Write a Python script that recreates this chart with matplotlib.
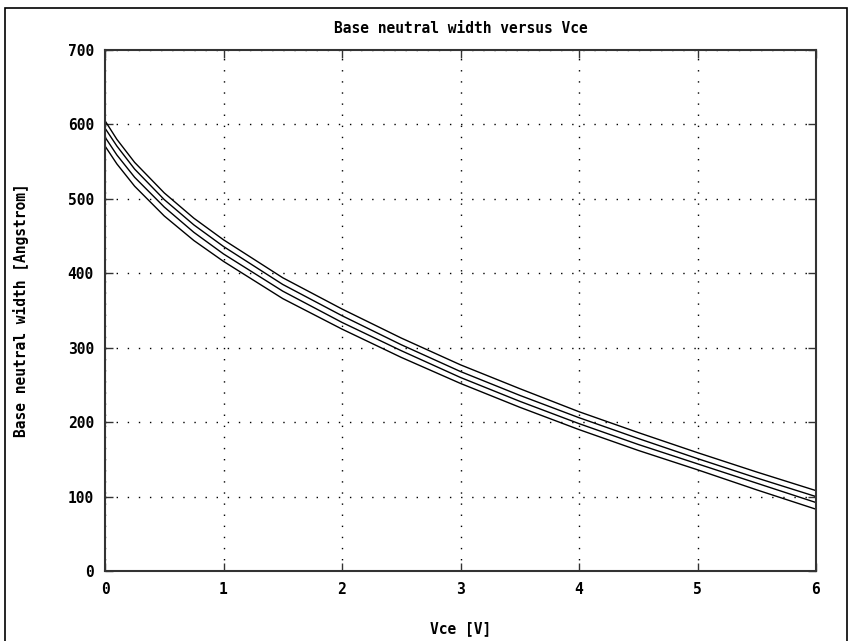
import matplotlib
matplotlib.use("Agg")
import matplotlib.pyplot as plt
from matplotlib.patches import Rectangle

vce = [0, 0.1, 0.25, 0.5, 0.75, 1, 1.5, 2, 2.5, 3, 3.5, 4, 4.5, 5, 5.5, 6]
w1 = [605, 580, 549, 508, 474, 445, 394, 352, 313, 277, 245, 214, 186, 159, 133, 108]
w2 = [595, 571, 540, 499, 465, 436, 385, 343, 304, 268, 236, 206, 178, 151, 125, 100]
w3 = [583, 559, 529, 489, 455, 426, 376, 334, 296, 260, 228, 198, 170, 144, 118, 92]
w4 = [571, 547, 517, 477, 444, 416, 366, 325, 287, 252, 220, 190, 162, 136, 109, 83]

xticks = [0, 1, 2, 3, 4, 5, 6]
yticks = [0, 100, 200, 300, 400, 500, 600, 700]

font = "DejaVu Sans Mono"
plt.rcParams['font.family'] = [font]

fig = plt.figure(figsize=(8.49, 6.41), dpi=100)
ax = fig.add_axes([105/849, 1-571/641, (816-105)/849, (571-50)/641])

for w in (w1, w2, w3, w4):
    ax.plot(vce, w, color="black", lw=1.0)

ax.set_xlim(0, 6)
ax.set_ylim(0, 700)
ax.set_xticks(xticks)
ax.set_yticks(yticks)
ax.set_xticklabels([str(t) for t in xticks], fontsize=10.5, fontweight="bold")
ax.set_yticklabels([str(t) for t in yticks], fontsize=10.5, fontweight="bold")
ax.tick_params(direction="in", length=6, width=1, top=True, right=True, pad=8, color="#333333")
ax.grid(True, linestyle=(0, (1, 7)), color="black", lw=1.0)
for s in ax.spines.values():
    s.set_linewidth(1.5)
    s.set_color("#333333")

ax.set_title("Base neutral width versus Vce", fontsize=10.5, fontweight="bold", pad=12)
ax.set_xlabel("Vce [V]", fontsize=10.5, fontweight="bold", labelpad=17)
ax.set_ylabel("Base neutral width [Angstrom]", fontsize=10.5, fontweight="bold", labelpad=28)

fig.patches.append(Rectangle((5/849, -0.05), (847-5)/849, 1.05 - 8/641,
                             transform=fig.transFigure, fill=False,
                             edgecolor="black", lw=1.2))

fig.savefig("out.png", dpi=100)
